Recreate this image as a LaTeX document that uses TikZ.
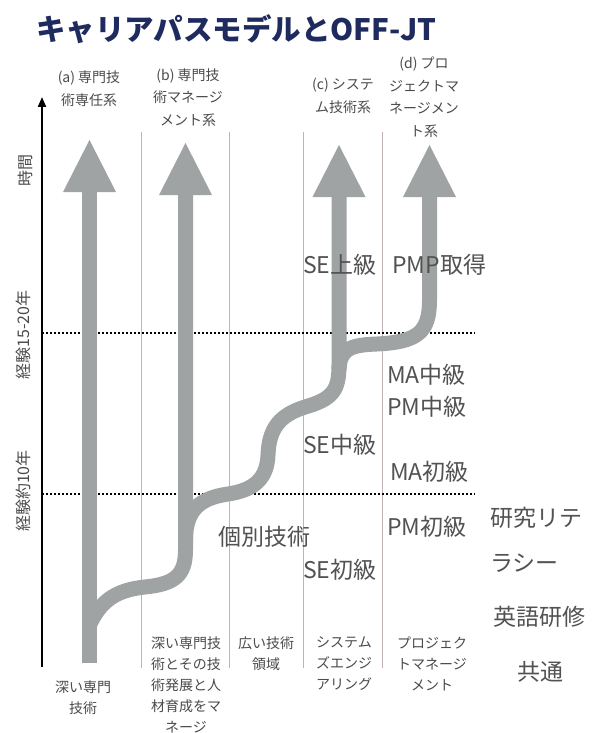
\documentclass[tikz,border=0pt]{standalone}
\usepackage{fontspec}
\setmainfont{Noto Sans CJK JP}
\usepackage{tikz}
\usetikzlibrary{arrows.meta,positioning}
\definecolor{titleblue}{RGB}{31,42,94}
\definecolor{routegray}{RGB}{160,163,164}
\definecolor{laneline}{RGB}{192,180,178}
\definecolor{gradegray}{RGB}{82,82,82}
\definecolor{notegray}{RGB}{75,75,75}

\begin{document}
\begin{tikzpicture}[
      x=1pt, y=-1pt,
      route/.style={draw=routegray, line width=15pt, -{Triangle[width=53pt,length=52pt,line width=0pt]}},
      lane/.style={draw=laneline, line width=1pt},
      stage/.style={draw=black, line width=1.5pt, dash pattern=on 2pt off 2pt},
      headnote/.style={text=notegray, align=center, font=\fontsize{14}{22.5}\selectfont},
      fieldnote/.style={text=notegray, align=center, font=\fontsize{14}{21}\selectfont},
      axisnote/.style={text=notegray, rotate=90, font=\fontsize{16}{16}\selectfont},
      grade/.style={text=gradegray, anchor=west, inner sep=0pt, font=\fontsize{23}{28}\selectfont}
    ]
    \fill[white] (0,0) rectangle (601,733);
    \useasboundingbox (0,0) rectangle (601,733);

    \node[anchor=base west, inner sep=0pt, text=titleblue, font=\fontsize{29.5}{34}\selectfont\bfseries] (title) at (36,41) {キャリアパスモデルとOFF-JT};

    % lanes and stages
    \coordinate (axisLow) at (42,667);
    \coordinate (axisTop) at (42,97);
    \draw[lane] (141,132) -- (141,668);
    \draw[lane] (229,132) -- (229,668);
    \draw[lane] (303,132) -- (303,668);
    \draw[lane] (382,132) -- (382,668);
    \draw[stage] (42,333) -- (475,333);
    \draw[stage] (42,494) -- (475,494);
    \draw[line width=2pt, -{Triangle[width=8pt,length=10pt]}] (axisLow) -- (axisTop);

    \node[axisnote] (timeNote) at (25,170) {時間};
    \node[axisnote] (late) at (23,335) {経験15-20年};
    \node[axisnote] (early) at (23,491) {経験約10年};

    % career routes
    \coordinate (aLow) at (89.5,663);
    \coordinate (aTop) at (89.5,140);
    \coordinate (bTop) at (185.5,143);
    \coordinate (cTop) at (339,145);
    \coordinate (dTop) at (429.5,145);
    \draw[route] (aLow) -- (aTop);
    \draw[route] (89.5,625) .. controls (100,602) and (115,590) .. (145,587)
      .. controls (175,584) and (185.5,575) .. (185.5,550) -- (bTop);
    \draw[route] (185.5,540) .. controls (185.5,510) and (200,498) .. (228,494)
      .. controls (255,490) and (267,478) .. (268,455)
      .. controls (269,428) and (280,415) .. (305,407)
      .. controls (333,399) and (339,390) .. (339,365) -- (cTop);
    \draw[route] (339,370) .. controls (340,350) and (348,345) .. (377,344)
      .. controls (418,342) and (429.5,332) .. (429.5,300) -- (dTop);

    % route names
    \node[headnote] (nameA) at (89,88.5) {(a) 専門技\\術専任系};
    \node[headnote] (nameB) at (188,97.5) {(b) 専門技\\術マネージ\\メント系};
    \node[headnote] (nameC) at (343,96) {(c) システ\\ム技術系};
    \node[headnote] (nameD) at (424,97) {(d) プロ\\ジェクトマ\\ネージメン\\ト系};

    % fields
    \node[fieldnote] (fieldA) at (83,698) {深い専門\\技術};
    \node[fieldnote] (fieldB) at (186,685) {深い専門技\\術とその技\\術発展と人\\材育成をマ\\ネージ};
    \node[fieldnote] (fieldW) at (266,654) {広い技術\\領域};
    \node[fieldnote] (fieldC) at (344,664) {システム\\ズエンジ\\アリング};
    \node[fieldnote] (fieldD) at (432,664) {プロジェク\\トマネージ\\メント};

    % OFF-JT grades
    \node[grade] (seTop) at (303,265) {SE上級};
    \node[grade] (pmp) at (392,265) {PMP取得};
    \node[grade] (maMid) at (387,375) {MA中級};
    \node[grade] (pmMid) at (387,407) {PM中級};
    \node[grade] (seMid) at (303,445) {SE中級};
    \node[grade] (maLow) at (390,472) {MA初級};
    \node[grade] (pmLow) at (387,527) {PM初級};
    \node[grade] (each) at (218,537) {個別技術};
    \node[grade] (seLow) at (303,570) {SE初級};
    \node[grade, align=left, font=\fontsize{23}{45}\selectfont] (research) at (490,540) {研究リテ\\ラシー};
    \node[grade] (english) at (493,617) {英語研修};
    \node[grade] (common) at (517,672) {共通};
  \end{tikzpicture}
\end{document}
